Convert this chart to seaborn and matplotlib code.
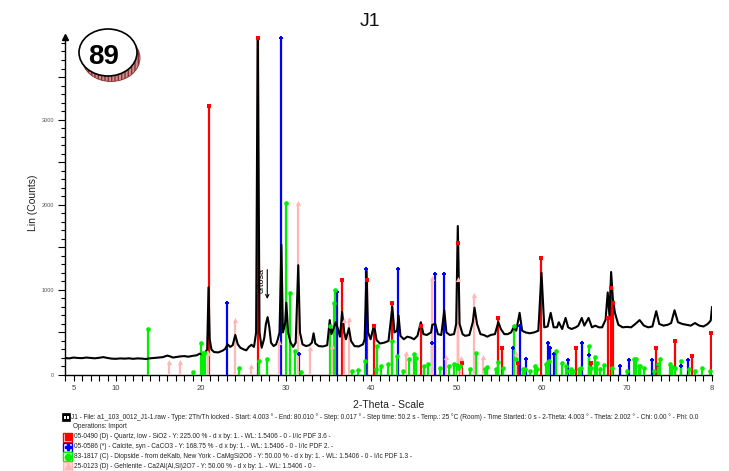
import numpy as np
import pandas as pd
import matplotlib
matplotlib.use("Agg")
import matplotlib.pyplot as plt
import seaborn as sns
from matplotlib.ticker import MultipleLocator, FixedLocator, FuncFormatter
from matplotlib.patches import Ellipse, Rectangle

# ---------------- data ----------------
scan_2theta = [4.0, 4.5, 5.0, 5.5, 6.0, 6.5, 7.0, 7.5, 8.0, 8.5, 9.0, 9.5, 10.0, 10.5, 11.0, 11.5,
               12.0, 12.5, 13.0, 13.5, 14.0, 14.5, 15.0, 15.5, 16.0, 16.3, 16.7, 17.0, 17.5, 18.0,
               18.5, 19.0, 19.5, 19.8, 20.1, 20.4, 20.7, 20.86, 21.0, 21.2, 21.5, 22.0, 22.5, 22.8,
               23.1, 23.4, 23.7, 24.0, 24.3, 24.6, 25.0, 25.3, 25.6, 25.9, 26.2, 26.45, 26.64, 26.85,
               27.1, 27.4, 27.6, 27.8, 28.0, 28.2, 28.5, 28.8, 29.0, 29.2, 29.42, 29.6, 29.85, 30.0,
               30.2, 30.5, 30.8, 31.1, 31.4, 31.6, 31.9, 32.3, 32.7, 33.0, 33.2, 33.4, 33.8, 34.3,
               34.8, 35.1, 35.3, 35.6, 35.8, 36.0, 36.3, 36.55, 36.8, 37.0, 37.35, 37.6, 38.0, 38.5,
               39.0, 39.2, 39.42, 39.6, 39.9, 40.3, 40.6, 41.0, 41.5, 42.0, 42.45, 42.7, 43.0, 43.18,
               43.4, 43.8, 44.2, 44.6, 45.0, 45.4, 45.8, 46.1, 46.5, 47.0, 47.15, 47.5, 47.8, 48.2,
               48.55, 48.8, 49.2, 49.7, 49.95, 50.14, 50.35, 50.7, 51.0, 51.5, 51.9, 52.1, 52.4, 52.8,
               53.2, 53.6, 54.0, 54.5, 54.9, 55.2, 55.6, 56.0, 56.4, 56.7, 57.0, 57.4, 57.7, 58.1,
               58.6, 59.1, 59.6, 59.97, 60.3, 60.7, 61.05, 61.4, 61.8, 62.0, 62.4, 62.8, 63.1, 63.5,
               64.0, 64.3, 64.7, 65.0, 65.5, 65.9, 66.3, 66.7, 67.1, 67.5, 67.75, 67.95, 68.15, 68.35,
               68.6, 69.0, 69.5, 70.0, 70.5, 71.0, 71.5, 72.0, 72.5, 73.0, 73.45, 73.8, 74.3, 74.8,
               75.2, 75.6, 76.0, 76.5, 77.0, 77.5, 78.0, 78.5, 79.0, 79.5, 79.85, 80.0]
scan_counts = [200, 195, 205, 200, 198, 205, 200, 196, 202, 210, 200, 192, 190, 195, 192, 196,
               190, 195, 193, 188, 196, 200, 205, 210, 228, 220, 205, 210, 218, 222,
               215, 225, 232, 250, 245, 255, 300, 1030, 420, 300, 270, 265, 285, 305,
               360, 330, 350, 470, 360, 320, 300, 290, 330, 355, 330, 500, 4200, 500,
               320, 430, 600, 680, 560, 380, 340, 360, 420, 500, 1530, 500, 600, 850,
               500, 380, 330, 380, 1290, 500, 360, 340, 350, 380, 490, 370, 340, 335,
               350, 645, 480, 560, 620, 560, 450, 740, 500, 420, 550, 400, 340, 335,
               360, 420, 1230, 500, 420, 590, 410, 370, 380, 400, 800, 500, 520, 700,
               460, 420, 450, 440, 420, 460, 620, 480, 470, 500, 590, 600, 480, 470,
               760, 500, 470, 480, 600, 1750, 600, 480, 460, 470, 620, 790, 600, 480,
               470, 450, 470, 480, 620, 540, 480, 480, 500, 560, 520, 730, 520, 500,
               490, 500, 520, 1200, 560, 570, 730, 560, 560, 620, 540, 670, 560, 540,
               560, 580, 670, 580, 670, 560, 580, 560, 560, 650, 970, 700, 1210, 900,
               730, 590, 560, 565, 560, 600, 645, 580, 560, 570, 750, 600, 580, 590,
               610, 760, 620, 600, 590, 580, 610, 580, 570, 600, 640, 800]

quartz_2theta = [20.86, 26.64, 36.54, 39.47, 40.30, 42.45, 45.79, 50.14, 50.62, 54.87, 55.33,
                 57.24, 59.96, 64.04, 65.79, 67.74, 68.14, 68.32, 73.47, 75.66, 77.67, 79.88]
quartz_counts = [3160, 3960, 1110, 1110, 580, 850, 575, 1550, 140, 670, 320,
                 140, 1380, 320, 140, 670, 1020, 850, 320, 400, 220, 490]

calcite_2theta = [23.06, 29.41, 31.44, 35.97, 39.40, 43.15, 47.12, 47.50, 48.51, 56.57, 57.41,
                  58.10, 60.68, 61.00, 61.40, 63.05, 64.68, 65.60, 69.20, 70.25, 72.90, 73.70,
                  76.30, 77.20]
calcite_counts = [845, 3960, 245, 980, 1245, 1245, 375, 1185, 1185, 320, 570,
                  190, 380, 320, 245, 175, 380, 235, 105, 175, 175, 120,
                  105, 175]

diopside_2theta = [13.77, 19.05, 20.00, 20.22, 20.40, 24.40, 26.75, 27.70, 29.95, 30.40, 30.96,
                   31.67, 35.10, 35.65, 35.77, 37.70, 38.45, 39.20, 40.55, 40.70, 41.10, 41.95,
                   42.40, 42.95, 43.66, 44.45, 45.00, 45.20, 46.20, 46.60, 48.05, 49.05, 49.70,
                   50.00, 50.20, 50.40, 51.55, 52.25, 53.35, 53.55, 54.60, 54.90, 55.45, 56.70,
                   57.00, 57.80, 58.00, 58.60, 59.20, 59.40, 60.55, 60.75, 60.85, 61.70, 62.40,
                   62.80, 63.00, 63.40, 63.67, 64.40, 64.65, 65.60, 65.75, 66.30, 66.50, 66.90,
                   67.30, 68.30, 70.05, 70.80, 71.10, 71.40, 71.60, 72.00, 73.15, 73.67, 73.95,
                   75.10, 75.30, 75.60, 76.30, 77.30, 78.00, 78.83, 79.80]
diopside_counts = [535, 40, 380, 255, 255, 85, 165, 185, 2025, 960, 280,
                   40, 580, 840, 1000, 50, 60, 165, 70, 345, 110, 125,
                   400, 225, 50, 185, 245, 205, 105, 125, 85, 105, 130,
                   115, 85, 110, 65, 260, 75, 90, 70, 155, 85, 575,
                   185, 65, 65, 50, 100, 65, 125, 155, 160, 280, 145,
                   105, 50, 65, 50, 65, 85, 340, 80, 210, 145, 65,
                   115, 85, 50, 185, 185, 105, 105, 85, 50, 125, 185,
                   125, 90, 80, 160, 65, 50, 85, 50]

gehlenite_2theta = [16.20, 17.50, 20.80, 24.00, 25.90, 29.10, 31.35, 32.80, 35.40, 36.80, 37.40,
                    44.10, 47.10, 48.75, 50.20, 50.50, 52.00, 53.10, 56.95]
gehlenite_counts = [155, 155, 260, 650, 100, 390, 2025, 315, 340, 645, 655,
                    255, 1135, 210, 1125, 195, 940, 215, 255]

x_tick_values = [5, 10, 20, 30, 40, 50, 60, 70, 80]
x_tick_labels = ["5", "10", "20", "30", "40", "50", "60", "70", "8"]
y_tick_values = [0, 1000, 2000, 3000]

legend_lines = [
    "J1 - File: a1_103_0012_J1-1.raw - Type: 2Th/Th locked - Start: 4.003 \u00b0 - End: 80.010 \u00b0 - Step: 0.017 \u00b0 - Step time: 50.2 s - Temp.: 25 \u00b0C (Room) - Time Started: 0 s - 2-Theta: 4.003 \u00b0 - Theta: 2.002 \u00b0 - Chi: 0.00 \u00b0 - Phi: 0.0",
    "Operations: Import",
    "05-0490 (D) - Quartz, low - SiO2 - Y: 225.00 % - d x by: 1. - WL: 1.5406 - 0 - I/Ic PDF 3.6 -",
    "05-0586 (*) - Calcite, syn - CaCO3 - Y: 168.75 % - d x by: 1. - WL: 1.5406 - 0 - I/Ic PDF 2. -",
    "83-1817 (C) - Diopside - from deKalb, New York - CaMgSi2O6 - Y: 50.00 % - d x by: 1. - WL: 1.5406 - 0 - I/Ic PDF 1.3 -",
    "25-0123 (D) - Gehlenite - Ca2Al(Al,Si)2O7 - Y: 50.00 % - d x by: 1. - WL: 1.5406 - 0 -",
]

# ---------------- figure ----------------
sns.set_theme(style="white")
plt.rcParams['font.family'] = ['Liberation Sans', 'DejaVu Sans']

W, H = 729, 471
fig = plt.figure(figsize=(W / 100, H / 100), dpi=100)

def fx(px):
    return px / W

def fy(py):
    return 1 - py / H

ax = fig.add_axes([fx(65), fy(375), (712 - 65) / W, (375 - 37) / H])

phases = [
    (quartz_2theta, quartz_counts, "#ff0000", "s", 10),
    (calcite_2theta, calcite_counts, "#0000ff", "P", 9),
    (diopside_2theta, diopside_counts, "#00ee00", "o", 11),
    (gehlenite_2theta, gehlenite_counts, "#ffb8b8", "^", 14),
]
for xs, ys, col, mk, sz in phases:
    ax.vlines(xs, 0, ys, colors=col, lw=1.6, zorder=3)
    df = pd.DataFrame({"two_theta": xs, "counts": ys})
    sns.scatterplot(data=df, x="two_theta", y="counts", color=col, marker=mk, s=sz,
                    linewidth=0, ax=ax, zorder=6, clip_on=False, legend=False)

scan = pd.DataFrame({"two_theta": scan_2theta, "counts": scan_counts})
sns.lineplot(data=scan, x="two_theta", y="counts", color="black", lw=1.5, ax=ax,
             zorder=5, sort=False, estimator=None)

ax.set_xlim(4.0, 80.0)
ax.set_ylim(0, 3970)
ax.set_xlabel("")
ax.set_ylabel("")

for s in ["top", "right"]:
    ax.spines[s].set_visible(False)
for s in ["left", "bottom"]:
    ax.spines[s].set_color("black")
    ax.spines[s].set_linewidth(1.0)
ax.plot([0], [1], marker="^", color="black", ms=4, transform=ax.transAxes, clip_on=False, zorder=6)

ax.xaxis.set_major_locator(FixedLocator(x_tick_values))
ax.set_xticklabels(x_tick_labels)
ax.xaxis.set_minor_locator(MultipleLocator(1))
ax.tick_params(axis="x", which="both", direction="out", length=4, width=0.8, color="black",
               labelsize=5.5, labelcolor="#444444", pad=3, bottom=True)

ax.yaxis.set_major_locator(MultipleLocator(500))
ax.yaxis.set_major_formatter(FuncFormatter(lambda v, p: f"{int(v)}" if int(v) in y_tick_values else ""))
ax.yaxis.set_minor_locator(MultipleLocator(100))
ax.tick_params(axis="y", which="major", direction="out", length=5, width=0.8, color="black",
               labelsize=4, labelcolor="#555555", pad=3, left=True)
ax.tick_params(axis="y", which="minor", direction="out", length=3, width=0.8, color="black", left=True)
ax.grid(False)

# annotation
ax.text(26.98, 1115, "ortosa", rotation=90, ha="center", va="center", fontsize=6.5, color="black", zorder=7)
ax.annotate("", xy=(27.76, 860), xytext=(27.76, 1270),
            arrowprops=dict(arrowstyle="->", lw=0.8, color="black", mutation_scale=6), zorder=7)

# titles & labels
fig.text(fx(370), fy(22), "J1", fontsize=14, ha="center", va="center", color="#111111")
fig.text(fx(389), fy(405), "2-Theta - Scale", fontsize=7.5, ha="center", va="center", color="#222222")
fig.text(fx(33), fy(203), "Lin (Counts)", fontsize=7.5, rotation=90, ha="center", va="center", color="#222222")

# badge "89"
shadow = Ellipse((fx(111), fy(58)), 58 / W, 47 / H, transform=fig.transFigure,
                 facecolor="#c89090", edgecolor="#8b3030", hatch="|||||", lw=0.6)
fig.add_artist(shadow)
badge = Ellipse((fx(108), fy(52.5)), 58 / W, 47 / H, transform=fig.transFigure,
                facecolor="white", edgecolor="black", lw=1.2)
fig.add_artist(badge)
fig.text(fx(104), fy(57), "89", fontsize=20, fontweight="bold", ha="center", va="center", color="black")

# legend block
line_y = [417, 427, 437, 447, 456.5, 466]
text_x = [71, 73, 74, 74, 74, 74]
for yv, xv, t in zip(line_y, text_x, legend_lines):
    fig.text(fx(xv), fy(yv), t, fontsize=4.7, ha="left", va="center", color="#222222")

# icons
fig.add_artist(Rectangle((fx(62), fy(421)), 8 / W, 8 / H, transform=fig.transFigure,
                         facecolor="black", edgecolor="black", lw=0.5))
fig.add_artist(Rectangle((fx(64), fy(419)), 2 / W, 3 / H, transform=fig.transFigure,
                         facecolor="white", edgecolor="none"))
fig.add_artist(Rectangle((fx(67), fy(419)), 2 / W, 3 / H, transform=fig.transFigure,
                         facecolor="white", edgecolor="none"))
icon_cols = ["#ff0000", "#0000ff", "#00ee00", "#ffb8b8"]
icon_marks = ["s", "P", "o", "^"]
for yv, c, m in zip(line_y[2:], icon_cols, icon_marks):
    fig.add_artist(Rectangle((fx(63), fy(yv + 4.5)), 9 / W, 9 / H, transform=fig.transFigure,
                             facecolor="white" if m != "^" else "#ffdede", edgecolor=c, lw=1.0))
    fig.add_artist(plt.Line2D([fx(67.5)], [fy(yv)], marker=m, color=c, ms=4.5, lw=0,
                              transform=fig.transFigure))

fig.savefig("out.png", dpi=100)
